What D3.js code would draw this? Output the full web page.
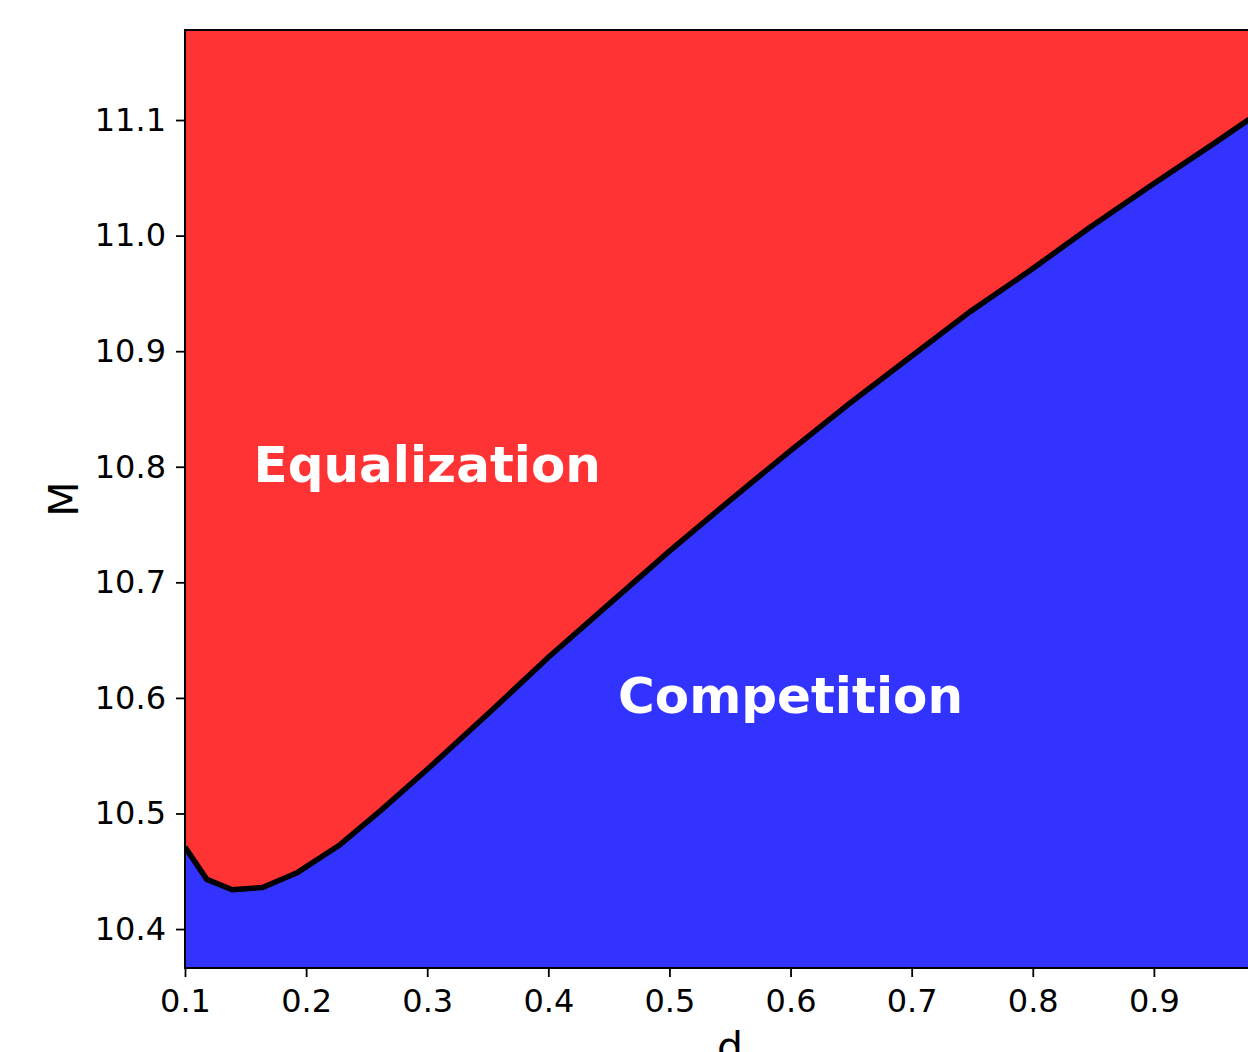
<html>
  <!DOCTYPE html>
  <meta charset="utf-8">
  <style>
    body { margin: 0; background: #fff; }
    text { font-family: "DejaVu Sans", sans-serif; }
  </style>
  <body>
    <div id="viz"></div>
    <script src="https://d3js.org/d3.v7.min.js"></script>
    <script>
      // boundary between the two regimes
      var dValues = [0.1, 0.118, 0.139, 0.164, 0.193, 0.228, 0.261, 0.302, 0.352, 0.401, 0.451,
                     0.500, 0.550, 0.600, 0.649, 0.699, 0.748, 0.798, 0.847, 0.897, 0.950, 1.0];
      var mValues = [10.471, 10.443, 10.434, 10.436, 10.449, 10.473, 10.502, 10.540, 10.588, 10.636, 10.682,
                     10.727, 10.771, 10.814, 10.855, 10.895, 10.934, 10.970, 11.007, 11.043, 11.080, 11.116];
      var xTicks = [0.1, 0.2, 0.3, 0.4, 0.5, 0.6, 0.7, 0.8, 0.9];
      var yTicks = [10.4, 10.5, 10.6, 10.7, 10.8, 10.9, 11.0, 11.1];
      var regionLabels = ["Equalization", "Competition"];
      var labelPos = [[0.3, 10.8], [0.6, 10.6]];

      var W = 1248, H = 1052;
      // plot box (note: "top" is a reserved window global, so use pl/pt/pr/pb)
      var pl = 185, pt = 30, pr = 1275, pb = 968;

      var svg = d3.select("#viz").append("svg")
        .attr("width", W).attr("height", H)
        .style("display", "block");

      var x = d3.scaleLinear().domain([0.1, 1.0]).range([pl, pr]);
      var y = d3.scaleLinear().domain([10.3663, 11.1779]).range([pb, pt]);

      var pts = dValues.map(function(d, i) { return [d, mValues[i]]; });

      svg.append("clipPath").attr("id", "plotclip")
        .append("rect").attr("x", pl).attr("y", pt)
        .attr("width", pr - pl).attr("height", pb - pt);

      var g = svg.append("g").attr("clip-path", "url(#plotclip)");

      // top region
      g.append("rect").attr("x", pl).attr("y", pt)
        .attr("width", pr - pl).attr("height", pb - pt)
        .style("fill", "#ff3333");

      var area = d3.area()
        .x(function(p) { return x(p[0]); })
        .y0(pb)
        .y1(function(p) { return y(p[1]); });
      g.append("path").datum(pts).attr("d", area).style("fill", "#3333ff");

      var line = d3.line()
        .x(function(p) { return x(p[0]); })
        .y(function(p) { return y(p[1]); });
      g.append("path").datum(pts).attr("d", line)
        .style("fill", "none").style("stroke", "#000")
        .style("stroke-width", 5.5).style("stroke-linejoin", "round");

      g.selectAll("text.region").data(regionLabels).enter().append("text")
        .attr("class", "region")
        .attr("x", function(d, i) { return x(labelPos[i][0]); })
        .attr("y", function(d, i) { return y(labelPos[i][1]); })
        .attr("dy", 15)
        .attr("text-anchor", "middle")
        .style("font-size", "50px").style("font-weight", "bold")
        .style("fill", "#fff")
        .text(function(d) { return d; });

      // frame
      svg.append("rect").attr("x", pl).attr("y", pt)
        .attr("width", pr - pl).attr("height", pb - pt)
        .style("fill", "none").style("stroke", "#000").style("stroke-width", 2);

      var xAxis = d3.axisBottom(x).tickValues(xTicks).tickSize(9).tickPadding(12)
        .tickFormat(d3.format(".1f"));
      var gx = svg.append("g").attr("transform", "translate(0," + pb + ")").call(xAxis);
      gx.select(".domain").remove();

      var yAxis = d3.axisLeft(y).tickValues(yTicks).tickSize(9).tickPadding(10)
        .tickFormat(d3.format(".1f"));
      var gy = svg.append("g").attr("transform", "translate(" + pl + ",0)").call(yAxis);
      gy.select(".domain").remove();

      svg.selectAll(".tick line").style("stroke", "#000").style("stroke-width", 1.8);
      svg.selectAll(".tick text").style("font-size", "32px").style("fill", "#000")
        .style("font-family", "'DejaVu Sans', sans-serif");

      svg.append("text")
        .attr("transform", "translate(78," + ((pt + pb) / 2) + ") rotate(-90)")
        .attr("text-anchor", "middle")
        .style("font-size", "41px").style("fill", "#000")
        .text("M");

      svg.append("text")
        .attr("x", (pl + pr) / 2).attr("y", 1061)
        .attr("text-anchor", "middle")
        .style("font-size", "41px").style("fill", "#000")
        .text("d");
    </script>
  </body>
</html>
